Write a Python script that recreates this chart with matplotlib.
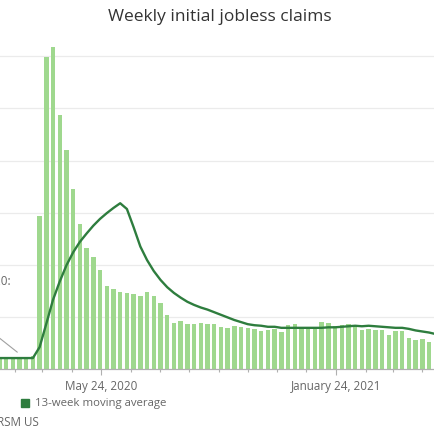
import numpy as np
import pandas as pd
import matplotlib
matplotlib.use("Agg")
import matplotlib.pyplot as plt
import matplotlib.dates as mdates
from matplotlib.patches import Rectangle

plt.rcParams['font.family'] = ['Open Sans', 'DejaVu Sans']

# weekly claims, millions (week ending dates)
weeks = pd.date_range('2020-02-08', periods=66, freq='7D')
claims = [0.21, 0.21, 0.22, 0.22, 0.21, 0.25,
          2.93, 5.99, 6.17, 4.87, 4.20, 3.46, 2.79, 2.32, 2.15, 1.89,
          1.60, 1.54, 1.47, 1.46, 1.44, 1.40, 1.47, 1.40, 1.26, 1.04,
          0.88, 0.92, 0.87, 0.87, 0.88, 0.86, 0.86, 0.81, 0.78, 0.83,
          0.80, 0.78, 0.76, 0.73, 0.74, 0.76, 0.71, 0.85, 0.87, 0.81,
          0.78, 0.78, 0.90, 0.88, 0.83, 0.84, 0.86, 0.85, 0.75, 0.76,
          0.74, 0.75, 0.65, 0.72, 0.73, 0.59, 0.56, 0.58, 0.51, 0.47]
moving_avg = [0.21, 0.21, 0.21, 0.21, 0.21, 0.21,
              0.42, 0.87, 1.33, 1.68, 1.99, 2.24, 2.44, 2.60, 2.75, 2.88,
              2.99, 3.09, 3.18, 3.07, 2.72, 2.35, 2.09, 1.88, 1.71, 1.57,
              1.46, 1.37, 1.29, 1.23, 1.18, 1.14, 1.09, 1.04, 0.99, 0.94,
              0.90, 0.86, 0.84, 0.83, 0.81, 0.81, 0.79, 0.79, 0.79, 0.79,
              0.79, 0.79, 0.79, 0.80, 0.80, 0.81, 0.82, 0.83, 0.82, 0.83,
              0.82, 0.81, 0.80, 0.79, 0.79, 0.77, 0.74, 0.72, 0.70, 0.67]
tick_dates = ['2020-05-24', '2021-01-24']
tick_labels = ['May 24, 2020', 'January 24, 2021']

bar_color = '#9fd88e'
line_color = '#2e7d3e'
text_color = '#666666'

fig = plt.figure(figsize=(4.35, 4.35), dpi=100)
ax = fig.add_axes([0, 0.1494, 1, 0.7789])

ax.bar(weeks, claims, width=4.6, color=bar_color, edgecolor='none', linewidth=0, zorder=2)
ax.plot(weeks, moving_avg, color=line_color, lw=1.7, zorder=3)

ref = pd.Timestamp('2020-05-24')
ax.set_xlim(ref - pd.Timedelta(days=105.3), ref + pd.Timedelta(days=348.2))
ax.set_ylim(0, 6.5)

ax.set_yticks([1, 2, 3, 4, 5, 6])
ax.set_yticklabels([])
ax.tick_params(axis='y', length=0)
ax.grid(axis='y', color='#ebebeb', lw=0.9, zorder=0)

ax.xaxis.set_minor_locator(mdates.MonthLocator(bymonthday=24))
ax.set_xticks(pd.to_datetime(tick_dates))
ax.set_xticklabels(tick_labels)
ax.tick_params(axis='x', which='major', length=4, width=0.8, color='#b0b0b0',
               labelsize=8.4, labelcolor=text_color, pad=3)
ax.tick_params(axis='x', which='minor', length=2.5, width=0.8, color='#b0b0b0')

for s in ['top', 'right', 'left']:
    ax.spines[s].set_visible(False)
ax.spines['bottom'].set_color('#b0b0b0')
ax.spines['bottom'].set_linewidth(0.9)

fig.text(0.506, 0.961, 'Weekly initial jobless claims', ha='center', va='center',
         fontsize=12.5, color='#333333')

# annotation (cut by the frame on the left)
fig.text(11 / 435, 1 - 282 / 435, 'Week of March 14, 2020:', ha='right', va='center',
         fontsize=8.4, color=text_color)
ax.annotate('', xy=(pd.Timestamp('2020-02-29'), 0.29), xycoords='data',
            xytext=(-12, 105), textcoords='figure pixels',
            arrowprops=dict(arrowstyle='-', color='#a0a0a0', lw=0.8))

# legend
fig.add_artist(Rectangle((21 / 435, 1 - 408 / 435), 8 / 435, 8 / 435,
                         transform=fig.transFigure, color=line_color))
fig.text(35 / 435, 1 - 404 / 435, '13-week moving average', ha='left', va='center',
         fontsize=8.2, color=text_color)

fig.text(39 / 435, 1 - 423 / 435, 'Source: U.S. Department of Labor, RSM US', ha='right',
         va='center', fontsize=8.4, color=text_color)

fig.savefig('out.png', dpi=100)
